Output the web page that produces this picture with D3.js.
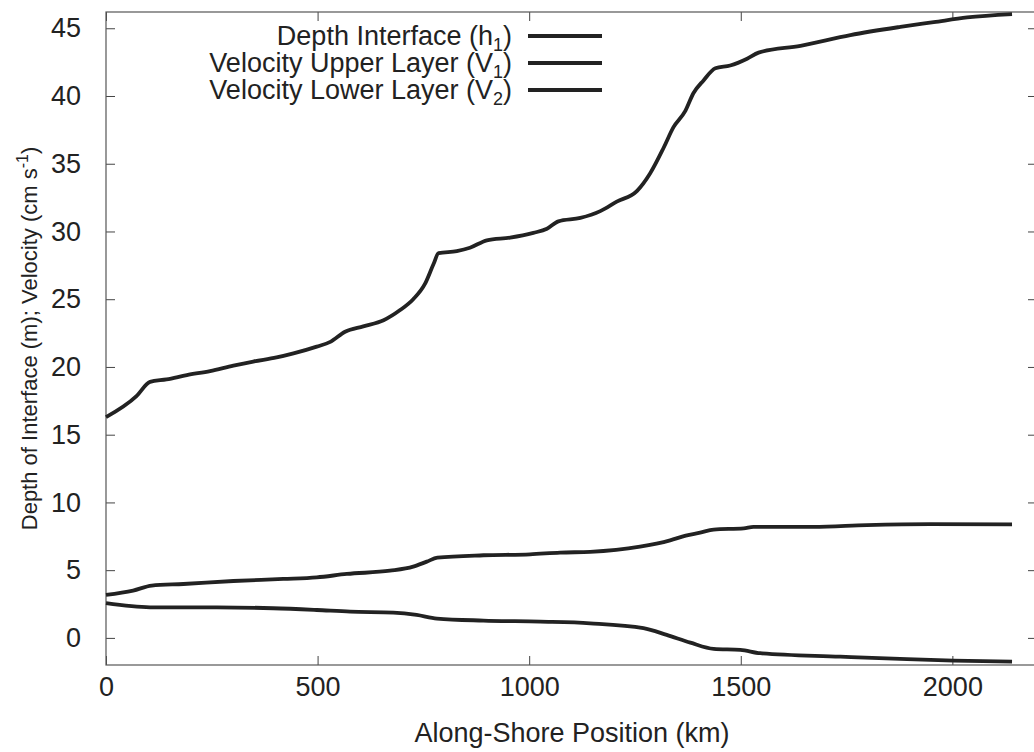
<!DOCTYPE html>
<html>
<head>
<meta charset="utf-8">
<script src="https://cdn.jsdelivr.net/npm/d3@7"></script>
<style>
  body { margin: 0; background: #fff; }
  text { font-family: "Liberation Sans", Arial, sans-serif; fill: #222; }
</style>
</head>
<body>
<div id="chart"></div>
<script>
// Depth of interface h1 (m)
const h1Km  = [0, 72, 104, 143, 191, 246, 301, 348, 403, 443, 498, 530, 565, 608, 656, 695, 726, 754, 774, 786,
               829, 860, 900, 955, 1010, 1042, 1069, 1121, 1168, 1207, 1255, 1286, 1318, 1341, 1369, 1388, 1412,
               1440, 1475, 1515, 1542, 1641, 1759, 1877, 1956, 2035, 2141];
const h1Val = [16.3, 17.85, 18.9, 19.08, 19.4, 19.7, 20.1, 20.4, 20.7, 21.0, 21.5, 21.85, 22.6, 23.0, 23.45, 24.2, 25.0, 26.15, 27.6, 28.4,
               28.55, 28.8, 29.35, 29.55, 29.9, 30.2, 30.75, 31.0, 31.5, 32.2, 33.0, 34.3, 36.2, 37.7, 38.9, 40.2, 41.15,
               42.05, 42.25, 42.75, 43.2, 43.7, 44.5, 45.1, 45.45, 45.8, 46.05];

// Velocity upper layer V1 (cm/s)
const v1Km  = [0, 64, 108, 183, 301, 419, 498, 569, 671, 726, 758, 783, 892, 1002, 1073, 1144, 1262, 1333, 1370,
               1404, 1436, 1507, 1530, 1672, 1798, 1948, 2141];
const v1Val = [3.17, 3.49, 3.86, 3.98, 4.2, 4.35, 4.47, 4.72, 4.96, 5.26, 5.63, 5.92, 6.1, 6.17, 6.3, 6.35, 6.73, 7.2, 7.55,
               7.77, 8.0, 8.09, 8.2, 8.2, 8.33, 8.4, 8.38];

// Velocity lower layer V2 (cm/s)
const v2Km  = [0, 104, 262, 395, 498, 577, 679, 734, 782, 892, 1026, 1144, 1270, 1325, 1381, 1436, 1499, 1546,
               1735, 1893, 2003, 2141];
const v2Val = [2.56, 2.26, 2.26, 2.19, 2.06, 1.94, 1.87, 1.7, 1.43, 1.28, 1.2, 1.08, 0.72, 0.22, -0.35, -0.81, -0.88, -1.13,
               -1.38, -1.57, -1.67, -1.75];

const xTicks = [0, 500, 1000, 1500, 2000];
const yTicks = [0, 5, 10, 15, 20, 25, 30, 35, 40, 45];

const legendNames = ["Depth Interface (h", "Velocity Upper Layer (V", "Velocity Lower Layer (V"];
const legendSubs  = ["1", "1", "2"];

const width = 1034, height = 752;
const margin = { top: 12, right: -3, bottom: 87, left: 106 };

const svg = d3.select('#chart')
  .append('svg')
  .attr('width', width)
  .attr('height', height);

const x = d3.scaleLinear()
  .domain([0, 2200])
  .range([margin.left, width - margin.right]);

const y = d3.scaleLinear()
  .domain([-2, 46.2])
  .range([height - margin.bottom, margin.top]);

const x0 = margin.left, x1 = width - margin.right;
const y0 = height - margin.bottom, y1 = margin.top;

// Axes (ticks inward, mirrored on top/right like gnuplot)
const axisStyle = g => {
  g.select('.domain').remove();
  g.selectAll('line').attr('stroke', '#444');
  g.selectAll('text').style('font-size', '27px').attr('fill', '#222');
};

svg.append('g')
  .attr('transform', `translate(0,${y0})`)
  .call(d3.axisBottom(x).tickValues(xTicks).tickSize(-9).tickPadding(12).tickFormat(d3.format('d')))
  .call(axisStyle);

svg.append('g')
  .attr('transform', `translate(0,${y1})`)
  .call(d3.axisTop(x).tickValues(xTicks).tickSize(-9).tickFormat(''))
  .call(axisStyle);

svg.append('g')
  .attr('transform', `translate(${x0},0)`)
  .call(d3.axisLeft(y).tickValues(yTicks).tickSize(-9).tickPadding(25))
  .call(axisStyle);

svg.append('g')
  .attr('transform', `translate(${x1},0)`)
  .call(d3.axisRight(y).tickValues(yTicks).tickSize(-9).tickFormat(''))
  .call(axisStyle);

// Frame
svg.append('rect')
  .attr('x', x0).attr('y', y1)
  .attr('width', x1 - x0).attr('height', y0 - y1)
  .attr('fill', 'none')
  .attr('stroke', '#555')
  .attr('stroke-width', 1.2);

// Curves
const line = d3.line()
  .curve(d3.curveMonotoneX)
  .x(d => x(d[0]))
  .y(d => y(d[1]));

const series = [
  d3.zip(h1Km, h1Val),
  d3.zip(v1Km, v1Val),
  d3.zip(v2Km, v2Val)
];

svg.selectAll('path.series')
  .data(series)
  .join('path')
  .attr('class', 'series')
  .attr('fill', 'none')
  .attr('stroke', '#222')
  .attr('stroke-width', 3.8)
  .attr('stroke-linejoin', 'round')
  .attr('d', line);

// Legend
const legend = svg.append('g');
const rowY = d3.scalePoint().domain(d3.range(legendNames.length)).range([36, 90]);

legendNames.forEach((name, i) => {
  const t = legend.append('text')
    .attr('x', 512)
    .attr('y', rowY(i) + 9)
    .attr('text-anchor', 'end')
    .style('font-size', '27px');
  t.append('tspan').text(name);
  t.append('tspan').attr('dy', 6).style('font-size', '18px').text(legendSubs[i]);
  t.append('tspan').attr('dy', -6).text(')');

  legend.append('line')
    .attr('x1', 528).attr('x2', 602)
    .attr('y1', rowY(i)).attr('y2', rowY(i))
    .attr('stroke', '#222')
    .attr('stroke-width', 3.8);
});

// Axis titles
svg.append('text')
  .attr('x', 572)
  .attr('y', 742)
  .attr('text-anchor', 'middle')
  .style('font-size', '27px')
  .text('Along-Shore Position (km)');

const yt = svg.append('text')
  .attr('transform', `translate(37,${(y0 + y1) / 2}) rotate(-90)`)
  .attr('text-anchor', 'middle')
  .style('font-size', '22px');
yt.append('tspan').text('Depth of Interface (m); Velocity (cm s');
yt.append('tspan').attr('dy', -9).style('font-size', '16px').text('-1');
yt.append('tspan').attr('dy', 9).text(')');
</script>
</body>
</html>
